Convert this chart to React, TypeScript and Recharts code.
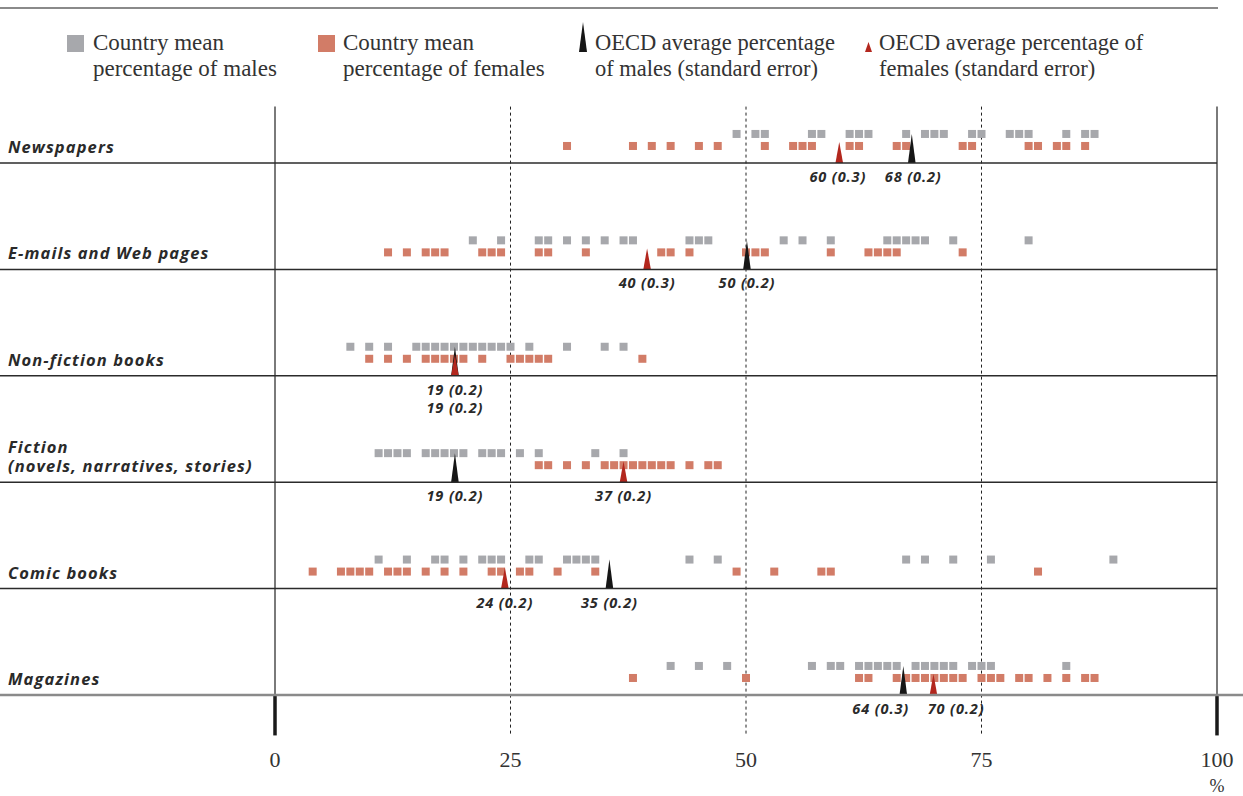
import { ScatterChart, Scatter, XAxis, YAxis, ReferenceLine, Legend, Label } from "recharts";

const W = 1243;
const H = 796;
const PLOT_RIGHT = 1217;

const GREY = "#a7a8ac";
const SALMON = "#d27c67";
const BLACK = "#161616";
const RED = "#b3271e";
const TEXT = "#2a2a2a";
const SANS = "'Open Sans', sans-serif";
const SERIF = "'Liberation Serif', serif";

const categories = [
  "Newspapers",
  "E-mails and Web pages",
  "Non-fiction books",
  "Fiction\n(novels, narratives, stories)",
  "Comic books",
  "Magazines",
];

// country means, % of students reading each material
const newspapersMales = [49, 51, 52, 57, 58, 61, 62, 63, 67, 69, 70, 71, 74, 75, 78, 79, 80, 84, 86, 87];
const newspapersFemales = [31, 38, 40, 42, 45, 47, 52, 55, 56, 57, 61, 62, 66, 67, 73, 74, 80, 81, 83, 84, 86];
const emailsMales = [21, 24, 28, 29, 31, 33, 35, 37, 38, 44, 45, 46, 54, 56, 59, 65, 66, 67, 68, 69, 72, 80];
const emailsFemales = [12, 14, 16, 17, 18, 22, 23, 24, 28, 29, 33, 41, 42, 44, 50, 51, 52, 59, 63, 64, 65, 66, 73];
const nonFictionMales = [8, 10, 12, 15, 16, 17, 18, 19, 20, 21, 22, 23, 24, 25, 27, 31, 35, 37];
const nonFictionFemales = [10, 12, 14, 16, 17, 18, 19, 20, 22, 25, 26, 27, 28, 29, 39];
const fictionMales = [11, 12, 13, 14, 16, 17, 18, 19, 20, 22, 23, 24, 26, 28, 34, 37];
const fictionFemales = [28, 29, 31, 33, 35, 36, 37, 38, 39, 40, 41, 42, 44, 46, 47];
const comicMales = [11, 14, 17, 18, 20, 22, 23, 24, 27, 28, 31, 32, 33, 34, 44, 47, 67, 69, 72, 76, 89];
const comicFemales = [4, 7, 8, 9, 10, 12, 13, 14, 16, 18, 20, 23, 24, 26, 27, 30, 34, 49, 53, 58, 59, 81];
const magazinesMales = [42, 45, 48, 57, 59, 60, 62, 63, 64, 65, 66, 68, 69, 70, 71, 72, 74, 75, 76, 84];
const magazinesFemales = [38, 50, 62, 63, 66, 67, 68, 69, 70, 71, 72, 73, 75, 76, 77, 79, 80, 82, 84, 86, 87];

// OECD averages (marker position) and their printed labels
const maleAverage = [67.6, 50.1, 19.1, 19.1, 35.5, 66.7];
const femaleAverage = [59.9, 39.5, 19.1, 37.0, 24.4, 69.9];
const maleLabels = ["68 (0.2)", "50 (0.2)", "19 (0.2)", "19 (0.2)", "35 (0.2)", "64 (0.3)"];
const femaleLabels = ["60 (0.3)", "40 (0.3)", "19 (0.2)", "37 (0.2)", "24 (0.2)", "70 (0.2)"];

const xTicks = [0, 25, 50, 75, 100];

const malesByRow = [newspapersMales, emailsMales, nonFictionMales, fictionMales, comicMales, magazinesMales];
const femalesByRow = [newspapersFemales, emailsFemales, nonFictionFemales, fictionFemales, comicFemales, magazinesFemales];

// each row sits on a baseline; one y unit = one row
const rowBase = (i: number) => categories.length - 1 - i;
const Y_TOP = categories.length - 1 + 0.53;
const Y_BELOW = -0.38;

const maleDots = malesByRow.flatMap((vals, i) => vals.map((v) => ({ x: v, y: rowBase(i) + 0.273 })));
const femaleDots = femalesByRow.flatMap((vals, i) => vals.map((v) => ({ x: v, y: rowBase(i) + 0.16 })));
const maleTri = maleAverage.map((v, i) => ({ x: v, y: rowBase(i) }));
const femaleTri = femaleAverage.map((v, i) => ({ x: v, y: rowBase(i) }));

// labels under markers: push apart when too close, stack when identical
const MIN_SEP = 8;
const avgLabels = categories.flatMap((_, i) => {
  const m = maleAverage[i];
  const f = femaleAverage[i];
  const d = Math.abs(m - f);
  if (d < 0.5) {
    return [
      { x: f, y: rowBase(i), text: femaleLabels[i], line: 0 },
      { x: m, y: rowBase(i), text: maleLabels[i], line: 1 },
    ];
  }
  let mx = m;
  let fx = f;
  if (d < MIN_SEP) {
    const mid = (m + f) / 2;
    const s = m < f ? -1 : 1;
    mx = mid + (s * MIN_SEP) / 2;
    fx = mid - (s * MIN_SEP) / 2;
  }
  return [
    { x: mx, y: rowBase(i), text: maleLabels[i], line: 0 },
    { x: fx, y: rowBase(i), text: femaleLabels[i], line: 0 },
  ];
});

const square = (fill: string) => (p: any) => (
  <rect x={p.cx - 4} y={p.cy - 4} width={8} height={8} fill={fill} />
);

const triangle = (fill: string, h: number) => (p: any) => (
  <polygon points={`${p.cx - 3.8},${p.cy} ${p.cx + 3.8},${p.cy} ${p.cx},${p.cy - h}`} fill={fill} />
);

const avgText = (p: any) => (
  <text
    x={p.cx}
    y={p.cy + 19 + p.payload.line * 18}
    textAnchor="middle"
    fontFamily={SANS}
    fontWeight={700}
    fontStyle="italic"
    fontSize={14.5}
    letterSpacing={0.9}
    fill={TEXT}
  >
    {p.payload.text}
  </text>
);

function RowTick(props: any) {
  const { y, payload } = props;
  const idx = categories.length - 1 - payload.value;
  const lines = categories[idx].split("\n");
  const bottom = payload.value === 0;
  return (
    <g>
      <line
        x1={0}
        x2={bottom ? W : PLOT_RIGHT}
        y1={y}
        y2={y}
        stroke={bottom ? "#8a8a8a" : "#2b2b2b"}
        strokeWidth={bottom ? 2.5 : 1.5}
      />
      {lines.map((t, k) => (
        <text
          key={k}
          x={8}
          y={y - 10 - (lines.length - 1 - k) * 19}
          textAnchor="start"
          fontFamily={SANS}
          fontWeight={700}
          fontStyle="italic"
          fontSize={16.5}
          letterSpacing={1.1}
          fill={TEXT}
        >
          {t}
        </text>
      ))}
    </g>
  );
}

function LegendBox() {
  const t = { fontFamily: SERIF, fontSize: 23, fill: "#333" };
  return (
    <svg width={W} height={100} style={{ display: "block" }}>
      <line x1={0} x2={1218} y1={8} y2={8} stroke="#8a8a8a" strokeWidth={2} />
      <rect x={67} y={35} width={17} height={17} fill={GREY} />
      <text x={93} y={50} {...t}>Country mean</text>
      <text x={93} y={76} {...t}>percentage of males</text>
      <rect x={318} y={35} width={17} height={17} fill={SALMON} />
      <text x={343} y={50} {...t}>Country mean</text>
      <text x={343} y={76} {...t}>percentage of females</text>
      <polygon points="579,52 587,52 583,22" fill={BLACK} />
      <text x={595} y={50} {...t} fontSize={22.5}>OECD average percentage</text>
      <text x={595} y={76} {...t} fontSize={22.5}>of males (standard error)</text>
      <polygon points="865,52 872,52 868.5,42" fill={RED} />
      <text x={879} y={50} {...t} fontSize={22.5}>OECD average percentage of</text>
      <text x={879} y={76} {...t} fontSize={22.5}>females (standard error)</text>
    </svg>
  );
}

export default function App() {
  return (
    <div style={{ position: "absolute", left: 0, top: 0, width: W, height: H, background: "#fff" }}>
      <ScatterChart width={W} height={H} margin={{ top: 56.6, right: W - PLOT_RIGHT, bottom: 0, left: 0 }}>
        <XAxis
          type="number"
          dataKey="x"
          domain={[0, 100]}
          ticks={xTicks}
          axisLine={false}
          tickLine={false}
          tickSize={0}
          tickMargin={56}
          height={101}
          tick={{ fontFamily: SERIF, fontSize: 22, fill: "#333" }}
        >
          <Label
            content={(p: any) => {
              const vb = p.viewBox || {};
              return (
                <text x={vb.x + vb.width} y={vb.y + vb.height - 4} textAnchor="middle" fontFamily={SERIF} fontSize={18} fill="#333">
                  %
                </text>
              );
            }}
          />
        </XAxis>
        <YAxis
          type="number"
          dataKey="y"
          domain={[0, categories.length]}
          ticks={[0, 1, 2, 3, 4, 5]}
          interval={0}
          width={275}
          axisLine={false}
          tickLine={false}
          tick={(p: any) => <RowTick {...p} />}
        />
        <Legend
          layout="vertical"
          align="center"
          verticalAlign="middle"
          wrapperStyle={{ top: 0, left: 0, width: W, height: 100, margin: 0 }}
          content={() => <LegendBox />}
        />
        {[0, 100].map((v) => (
          <ReferenceLine
            key={"edge" + v}
            segment={[{ x: v, y: Y_TOP }, { x: v, y: 0 }]}
            stroke="#7a7a7a"
            strokeWidth={2}
            ifOverflow="visible"
          />
        ))}
        {[0, 100].map((v) => (
          <ReferenceLine
            key={"bar" + v}
            segment={[{ x: v, y: 0 }, { x: v, y: Y_BELOW }]}
            stroke="#1a1a1a"
            strokeWidth={3.5}
            ifOverflow="visible"
          />
        ))}
        {[25, 50, 75].map((v) => (
          <ReferenceLine
            key={"dash" + v}
            segment={[{ x: v, y: Y_TOP }, { x: v, y: Y_BELOW }]}
            stroke="#222"
            strokeWidth={1}
            strokeDasharray="3 3"
            ifOverflow="visible"
          />
        ))}
        <Scatter data={maleDots} shape={square(GREY)} isAnimationActive={false} />
        <Scatter data={femaleDots} shape={square(SALMON)} isAnimationActive={false} />
        <Scatter data={maleTri} shape={triangle(BLACK, 29)} isAnimationActive={false} />
        <Scatter data={femaleTri} shape={triangle(RED, 21)} isAnimationActive={false} />
        <Scatter data={avgLabels} shape={avgText} isAnimationActive={false} />
      </ScatterChart>
    </div>
  );
}
